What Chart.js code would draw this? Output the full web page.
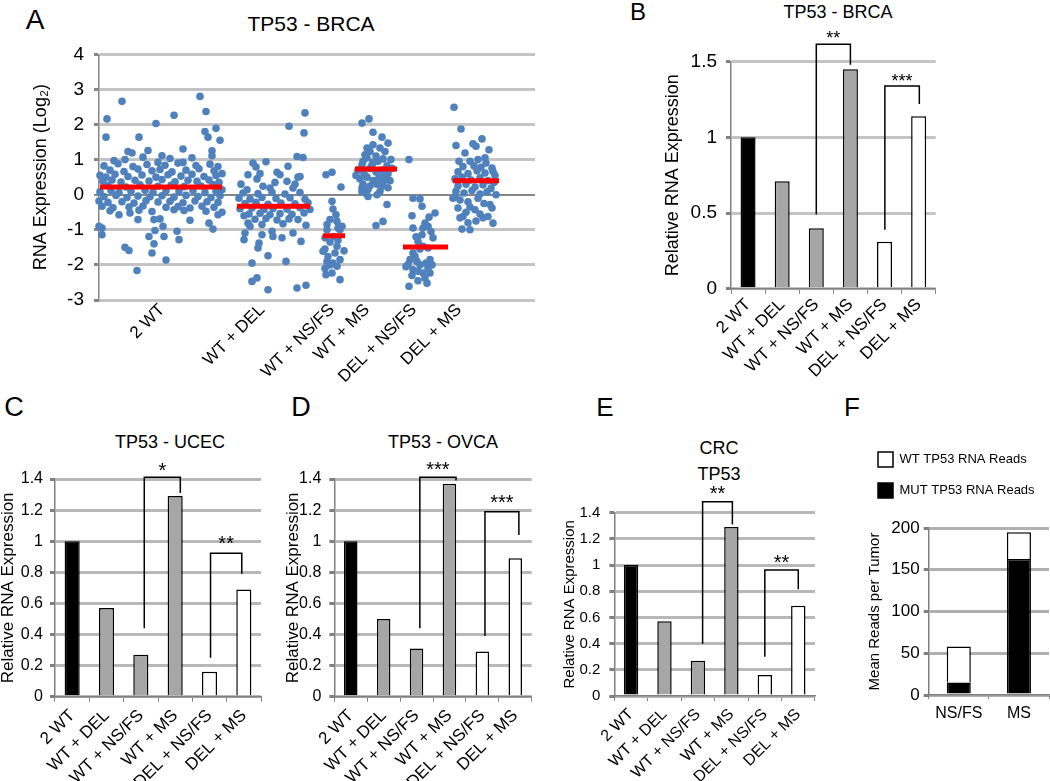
<!DOCTYPE html>
<html><head><meta charset="utf-8">
<script src="https://cdn.jsdelivr.net/npm/chart.js@4.4.1/dist/chart.umd.min.js"></script>
<style>
html,body{margin:0;padding:0;background:#fff;}
body{width:1050px;height:781px;position:relative;overflow:hidden;font-family:"Liberation Sans",Arial,sans-serif;}
canvas.p{position:absolute;}
.t{position:absolute;transform:translate(-50%,-50%);white-space:nowrap;line-height:1;color:#000;}
</style></head><body>
<div class="t" style="left:35px;top:20px;font-size:28px">A</div>
<div class="t" style="left:638px;top:12px;font-size:24px">B</div>
<div class="t" style="left:14px;top:407px;font-size:27px">C</div>
<div class="t" style="left:301px;top:407px;font-size:27px">D</div>
<div class="t" style="left:605px;top:407px;font-size:26px">E</div>
<div class="t" style="left:852px;top:407px;font-size:26px">F</div>
<div class="t" style="left:311px;top:23px;font-size:21px">TP53 - BRCA</div>
<div class="t" style="left:838px;top:12px;font-size:18px">TP53 - BRCA</div>
<div class="t" style="left:170px;top:442px;font-size:18px">TP53 - UCEC</div>
<div class="t" style="left:443px;top:442px;font-size:18px">TP53 - OVCA</div>
<div class="t" style="left:719px;top:448px;font-size:18px">CRC</div>
<div class="t" style="left:719px;top:474px;font-size:18px">TP53</div>
<script>
// ---------------- DATA ----------------
const groupLabels = ['2 WT','WT + DEL','WT + NS/FS','WT + MS','DEL + NS/FS','DEL + MS'];
const groupTickPos = [63,163,233,268,315,360];

// Panel A: jittered samples [position, log2 expression]
const pts2WT = [[101,2.80],[23,2.66],[107,2.37],[8,2.16],[75,2.26],[57,2.03],[117,1.89],[106,1.80],[109,1.64],[7,1.64],[40,1.64],[121,1.55],[84,1.30],[113,1.25],[113,1.11],[29,1.23],[33,1.19],[49,1.26],[26,1.00],[44,1.07],[63,1.11],[71,1.03],[15,0.97],[93,1.05],[84,0.92],[59,0.92],
[20,-0.57],[0,-0.90],[3,-0.95],[3,-1.14],[31,-0.52],[39,-0.71],[55,-0.71],[61,-0.69],[64,-0.90],[56,-1.02],[91,-0.73],[75,-0.43],[78,-1.04],[80,-1.28],[50,-1.19],[65,-1.19],[55,-1.40],[26,-1.50],[30,-1.59],[53,-1.66],[67,-1.86],[38,-2.16],[110,-0.81],[114,-0.98],[119,-0.57],[123,-0.50],
[5,0.82],[19,0.88],[34,0.80],[48,0.86],[66,0.84],[79,0.90],[97,0.83],[111,0.87],[119,0.80],
[11,0.70],[25,0.66],[39,0.73],[53,0.68],[61,0.72],[73,0.65],[87,0.70],[100,0.74],[115,0.68],
[1,0.55],[7,0.50],[16,0.58],[29,0.52],[43,0.56],[57,0.50],[69,0.57],[82,0.53],[93,0.58],[105,0.52],[117,0.55],[123,0.60],
[4,0.38],[13,0.42],[22,0.36],[36,0.41],[50,0.39],[63,0.43],[76,0.37],[89,0.41],[98,0.38],[110,0.42],[120,0.35],
[9,0.26],[27,0.22],[41,0.28],[59,0.24],[72,0.27],[85,0.23],[102,0.25],[114,0.29],
[1,0.08],[12,0.12],[20,0.06],[32,0.10],[46,0.13],[54,0.07],[67,0.11],[80,0.09],[94,0.12],[106,0.06],[117,0.10],[123,0.14],
[5,-0.05],[17,-0.02],[28,-0.08],[39,-0.04],[51,-0.06],[63,-0.03],[75,-0.07],[87,-0.02],[99,-0.05],[112,-0.08],[121,-0.03],
[0,-0.18],[9,-0.22],[23,-0.20],[35,-0.24],[47,-0.17],[59,-0.21],[71,-0.19],[84,-0.23],[96,-0.18],[108,-0.20],[119,-0.22],
[3,-0.33],[14,-0.37],[30,-0.35],[44,-0.32],[67,-0.36],[79,-0.34],[91,-0.38],[103,-0.33],[115,-0.36],
[11,-0.46],[40,-0.44],[53,-0.48],[85,-0.45],[107,-0.47]];
const ptsWtDel = [[206,2.33],[190,1.95],[205,1.76],[198,1.09],[204,1.06],[189,0.81],[154,0.90],[167,0.94],[157,0.79],[149,0.57],[158,0.45],[178,0.64],[181,0.57],[199,0.50],[201,0.52],[188,0.38],[164,0.24],[171,0.19],[148,0.14],[194,0.19],
[145,-0.60],[149,-0.81],[151,-0.90],[146,-1.09],[145,-1.28],[163,-1.14],[160,-1.38],[159,-1.52],[173,-1.04],[174,-1.19],[183,-1.23],[194,-1.09],[202,-1.33],[169,-1.74],[187,-1.90],[153,-1.95],[158,-2.37],[153,-2.47],[169,-2.71],[198,-2.66],[207,-2.58],
[144,0.05],[159,0.03],[173,0.07],[186,0.02],[201,0.06],
[140,-0.10],[151,-0.12],[163,-0.08],[177,-0.11],[191,-0.09],[206,-0.13],
[146,-0.25],[157,-0.22],[169,-0.27],[182,-0.24],[196,-0.26],[209,-0.23],
[141,-0.40],[153,-0.38],[165,-0.42],[174,-0.39],[188,-0.41],[201,-0.37],[211,-0.42],
[150,-0.55],[161,-0.53],[171,-0.57],[181,-0.54],[193,-0.56],[205,-0.52],
[156,-0.70],[167,-0.68],[178,-0.72],[190,-0.69],[199,-0.71],
[163,-0.85],[184,-0.83],[207,-0.87],[142,0.30],[161,0.60],[176,0.35],[196,0.30]];
const ptsWtNs = [[227,0.57],[233,0.64],[242,0.22],[233,-0.19],[234,-0.41],[237,-0.57],[231,-0.71],[238,-0.76],[228,-0.85],[239,-0.95],[228,-1.00],[241,-1.00],[235,-1.19],[226,-1.23],[231,-1.35],[239,-1.30],[238,-1.47],[226,-1.55],[224,-1.61],[236,-1.66],[229,-1.76],[241,-1.85],[228,-1.90],[234,-1.95],[231,-2.00],[238,-2.04],[226,-2.10],[233,-2.23],[227,-2.28],[241,-2.42],[245,-1.60],[243,-0.90]];
const ptsWtMs = [[263,2.04],[270,2.16],[274,1.78],[283,1.64],[289,1.47],[274,1.42],[268,1.33],[266,1.14],[271,1.23],[281,1.33],[286,1.23],[284,1.02],[264,0.95],[263,0.85],[274,0.92],[288,0.83],[263,0.19],[266,0.05],[269,-0.05],[278,0.00],[283,0.24],[286,0.43],[288,-0.28],[284,-0.76],[277,-0.88],[263,0.09],
[259,0.70],[265,0.60],[271,0.75],[277,0.65],[283,0.70],[289,0.60],[293,0.75],[261,0.45],[268,0.50],[274,0.40],[280,0.50],[286,0.55],[291,0.40],[264,0.30],[271,0.25],[278,0.30],[284,0.35],[289,0.20],[273,0.85],[279,0.95],[268,1.05],[277,1.10],[292,1.00],[257,0.55],[269,0.15],[281,0.10]];
const ptsDelNs = [[310,1.00],[314,-0.10],[321,-0.12],[323,-0.33],[313,-0.60],[336,-0.52],[330,-0.64],[326,-0.81],[324,-0.95],[329,-0.90],[314,-0.95],[323,-1.14],[319,-1.33],[334,-1.23],[314,-1.66],[311,-1.85],[309,-1.99],[318,-1.90],[314,-2.14],[319,-2.18],[324,-2.23],[331,-1.85],[329,-2.09],[331,-2.23],[326,-2.37],[328,-2.52],[310,-2.61],[324,-1.47],[329,-1.52],[321,-1.55],[316,-1.75],[321,-2.00],[327,-1.95],[313,-2.30],[319,-2.45],[333,-2.00],[332,-1.05],[317,-1.20],[307,-2.05]];
const ptsDelMs = [[355,2.49],[362,1.87],[357,1.40],[374,1.45],[383,1.59],[377,1.38],[390,1.28],[366,1.19],[386,1.05],[360,0.95],[393,0.76],[394,0.66],[356,-0.05],[354,-0.10],[391,-0.28],[393,-0.38],[359,-0.38],[364,-0.62],[361,-0.66],[376,-0.43],[384,-0.66],[389,-0.62],[394,-0.81],[363,-0.98],[371,-1.00],
[371,0.95],[379,1.00],[387,0.90],[364,0.80],[375,0.82],[382,0.78],[359,0.65],[369,0.60],[378,0.68],[386,0.62],[396,0.55],[356,0.45],[363,0.50],[372,0.42],[381,0.48],[389,0.40],[395,0.35],[359,0.25],[367,0.30],[376,0.22],[384,0.28],[392,0.18],[357,0.10],[365,0.05],[373,0.12],[381,0.02],[388,0.08],[397,0.00],[361,-0.15],[369,-0.20],[379,-0.10],[385,-0.25],[371,-0.35],[367,-0.50],[381,-0.55],[377,-0.75],[369,-0.80]];
const medianValues = [0.22,-0.33,-1.17,0.73,-1.49,0.40];
const medianFrom = [1,138,224,256,304,354];
const medianTo = [123,211,246,298,349,400];

// Panels B-E: relative RNA expression
const barCategories = ['2 WT','WT + DEL','WT + NS/FS','WT + MS','DEL + NS/FS','DEL + MS'];
const barColors = ['#000000','#a6a6a6','#a6a6a6','#a6a6a6','#ffffff','#ffffff'];
const brcaValues = [1.0,0.71,0.40,1.45,0.31,1.14];
const ucecValues = [1.0,0.57,0.27,1.29,0.16,0.69];
const ovcaValues = [1.0,0.50,0.31,1.37,0.29,0.89];
const crcValues  = [1.0,0.57,0.27,1.29,0.16,0.69];
// significance brackets: [fromCat, toCat, leftEnd, top, rightEnd, labelLevel, label]
const bracketsB = [[2,3,0.49,1.615,1.48,1.677,'**'],[4.01,5.02,0.39,1.34,1.22,1.397,'***']];
const bracketsC = [[2.1,3.15,0.44,1.411,1.31,1.479,'*'],[4.03,4.94,0.25,0.922,0.79,1.008,'**']];
const bracketsD = [[2.1,3.2,0.44,1.411,1.39,1.484,'***'],[4.08,5.11,0.39,1.19,1.04,1.276,'***']];
const bracketsE = [[2.14,3.03,0.40,1.484,1.31,1.574,'**'],[4.0,5.0,0.30,0.963,0.815,1.052,'**']];

// Panel F: mean reads per tumor
const fCategories = ['NS/FS','MS'];
const mutReads = [15,163];
const wtReads = [43,32];

// ---------------- CHARTS ----------------
Chart.defaults.font.family = '"Liberation Sans", Arial, sans-serif';
Chart.defaults.color = '#000';
Chart.defaults.animation = false;
const plainNum = v => String(Number(Number(v).toFixed(3)));

function makeCanvas(r){
  const c = document.createElement('canvas');
  c.width = r[2]; c.height = r[3];
  c.className = 'p';
  c.style.left = r[0]+'px'; c.style.top = r[1]+'px';
  c.style.width = r[2]+'px'; c.style.height = r[3]+'px';
  document.body.appendChild(c);
  return c;
}
function makeBrackets(list, size){
  return {
    id:'brackets',
    afterDatasetsDraw(chart){
      const {ctx, scales:{x,y}} = chart;
      ctx.save();
      ctx.strokeStyle = '#000'; ctx.lineWidth = 1.5; ctx.fillStyle = '#000';
      ctx.font = size+'px "Liberation Sans", Arial, sans-serif';
      ctx.textAlign = 'center'; ctx.textBaseline = 'middle';
      list.forEach(b => {
        const x1 = x.getPixelForValue(b[0]), x2 = x.getPixelForValue(b[1]);
        const yt = y.getPixelForValue(b[3]);
        ctx.beginPath();
        ctx.moveTo(x1, y.getPixelForValue(b[2]));
        ctx.lineTo(x1, yt); ctx.lineTo(x2, yt);
        ctx.lineTo(x2, y.getPixelForValue(b[4]));
        ctx.stroke();
        ctx.fillText(b[6], (x1+x2)/2, y.getPixelForValue(b[5]) + size*0.25);
      });
      ctx.restore();
    }
  };
}

// ---- Panel A ----
(function(){
  const rect = [0,0,560,392];
  const plot = [99,54.3,535,300];
  const cv = makeCanvas(rect);
  const groups = [pts2WT, ptsWtDel, ptsWtNs, ptsWtMs, ptsDelNs, ptsDelMs];
  const datasets = [];
  medianValues.forEach((m,i) => {
    datasets.push({type:'scatter', showLine:true, data:[{x:medianFrom[i],y:m},{x:medianTo[i],y:m}],
      borderColor:'#ff0000', borderWidth:5, pointRadius:0, borderCapStyle:'butt', order:0});
  });
  groups.forEach((g,i) => {
    datasets.push({type:'scatter', label:groupLabels[i], data:g.map(p => ({x:p[0], y:p[1]})),
      pointRadius:3.8, pointBackgroundColor:'#4f81bd', pointBorderWidth:0, order:1, clip:false});
  });
  new Chart(cv, {
    type:'scatter',
    data:{datasets},
    options:{
      responsive:false,
      layout:{padding:{left:0, top:plot[1]-rect[1], right:rect[0]+rect[2]-plot[2], bottom:0}},
      plugins:{legend:{display:false}, tooltip:{enabled:false}},
      scales:{
        x:{type:'linear', min:0, max:436,
           afterBuildTicks(s){ s.ticks = groupTickPos.map(v => ({value:v})); },
           ticks:{autoSkip:false, minRotation:45, maxRotation:45, padding:0, font:{size:17},
                  callback:(v,i) => groupLabels[i]},
           grid:{display:false, drawTicks:false}, border:{display:false},
           afterFit(s){ s.height = rect[1]+rect[3]-plot[3]; }},
        y:{min:-3, max:4,
           ticks:{stepSize:1, font:{size:19}, padding:10},
           grid:{color:c => c.tick && c.tick.value === 0 ? '#868686' : '#c4c4c4',
                 lineWidth:c => c.tick && c.tick.value === 0 ? 2 : 3, tickLength:5, tickColor:'#868686'},
           border:{color:'#868686', width:1.5},
           title:{display:true, text:'RNA Expression (Log₂)', font:{size:18}, padding:{top:30,bottom:0}},
           afterFit(s){ s.width = plot[0]-rect[0]; }}
      }
    }
  });
})();

// ---- Bar panels B-E ----
function barPanel(cfg){
  const [L,T,W,H] = cfg.rect;
  const [pl,pt,pr,pb] = cfg.plot;
  const cv = makeCanvas(cfg.rect);
  new Chart(cv, {
    type:'bar',
    data:{labels:barCategories, datasets:[{data:cfg.values, backgroundColor:barColors, borderColor:'#000', borderWidth:1.5,
      categoryPercentage:1, barPercentage:cfg.barPct}]},
    options:{
      responsive:false,
      layout:{padding:{left:0, top:pt-T, right:L+W-pr, bottom:0}},
      plugins:{legend:{display:false}, tooltip:{enabled:false}},
      scales:{
        x:{grid:{display:true, drawOnChartArea:false, drawTicks:true, tickLength:5, tickColor:'#808080', offset:true},
           border:{color:'#808080', width:1.5},
           ticks:{font:{size:cfg.xFont}, minRotation:45, maxRotation:45, autoSkip:false, padding:cfg.xPad},
           afterFit(s){ s.height = T+H-pb; }},
        y:{min:0, max:cfg.yMax,
           ticks:{stepSize:cfg.yStep, font:{size:cfg.yFont}, padding:cfg.yPad, callback:plainNum},
           grid:{color:cfg.gridColor, lineWidth:cfg.gridWidth, tickLength:5, tickColor:'#808080'},
           border:{color:'#808080', width:1.5},
           title:{display:true, text:'Relative RNA Expression', font:{size:cfg.yTitleFont}, padding:{top:cfg.yTitlePad,bottom:0}},
           afterFit(s){ s.width = pl-L; }}
      }
    },
    plugins:[makeBrackets(cfg.brackets, cfg.starFont)]
  });
}
barPanel({rect:[655,0,300,385], plot:[731,61.7,935.7,288.7], values:brcaValues, barPct:0.44, xFont:17, xPad:1,
  yMax:1.5, yStep:0.5, yFont:19, yPad:9, gridColor:'#c4c4c4', gridWidth:3, yTitleFont:18, yTitlePad:7, brackets:bracketsB, starFont:18});
barPanel({rect:[-2,400,282,381], plot:[55,479,261,696.7], values:ucecValues, barPct:0.44, xFont:17, xPad:4,
  yMax:1.4, yStep:0.2, yFont:16, yPad:7, gridColor:'#b8b8b8', gridWidth:3, yTitleFont:17, yTitlePad:0, brackets:bracketsC, starFont:20});
barPanel({rect:[283,400,267,381], plot:[334.3,479,531.7,696.7], values:ovcaValues, barPct:0.41, xFont:17, xPad:4,
  yMax:1.4, yStep:0.2, yFont:16, yPad:8, gridColor:'#b8b8b8', gridWidth:3, yTitleFont:17, yTitlePad:0, brackets:bracketsD, starFont:20});
barPanel({rect:[561,400,274,381], plot:[614.3,512.7,815,696], values:crcValues, barPct:0.43, xFont:16, xPad:4,
  yMax:1.4, yStep:0.2, yFont:15, yPad:9, gridColor:'#b8b8b8', gridWidth:3, yTitleFont:15, yTitlePad:0, brackets:bracketsE, starFont:20});

// ---- Panel F ----
(function(){
  const rect = [862,435.7,188,345.3];
  const plot = [928.7,527.7,1049,695];
  const cv = makeCanvas(rect);
  new Chart(cv, {
    type:'bar',
    data:{labels:fCategories, datasets:[
      {label:'MUT TP53 RNA Reads', data:mutReads, backgroundColor:'#000', borderColor:'#000', borderWidth:1.5, categoryPercentage:1, barPercentage:0.4},
      {label:'WT TP53 RNA Reads', data:wtReads, backgroundColor:'#fff', borderColor:'#000', borderWidth:1.5, categoryPercentage:1, barPercentage:0.4}
    ]},
    options:{
      responsive:false,
      layout:{padding:{left:0, top:0, right:rect[0]+rect[2]-plot[2], bottom:0}},
      plugins:{
        tooltip:{enabled:false},
        legend:{display:true, position:'top', align:'start', reverse:true,
          labels:{boxWidth:15, boxHeight:15, padding:16, font:{size:13}}},
        title:{display:true, text:' ', weight:500, font:{size:10}, padding:{top:0,bottom:8}}
      },
      scales:{
        x:{stacked:true, grid:{display:true, drawOnChartArea:false, drawTicks:true, tickLength:4, tickColor:'#808080', offset:true},
           border:{color:'#808080', width:1.5}, ticks:{font:{size:16}, maxRotation:0, padding:5},
           afterFit(s){ s.height = rect[1]+rect[3]-plot[3]; }},
        y:{stacked:true, min:0, max:200, ticks:{stepSize:50, font:{size:17}, padding:4},
           grid:{color:'#b0b0b0', lineWidth:3, tickLength:5, tickColor:'#808080'}, border:{color:'#808080', width:1.5},
           title:{display:true, text:'Mean Reads per Tumor', font:{size:15}, padding:{top:4,bottom:0}},
           afterFit(s){ s.width = plot[0]-rect[0]; }}
      }
    }
  });
})();
</script>
</body></html>
